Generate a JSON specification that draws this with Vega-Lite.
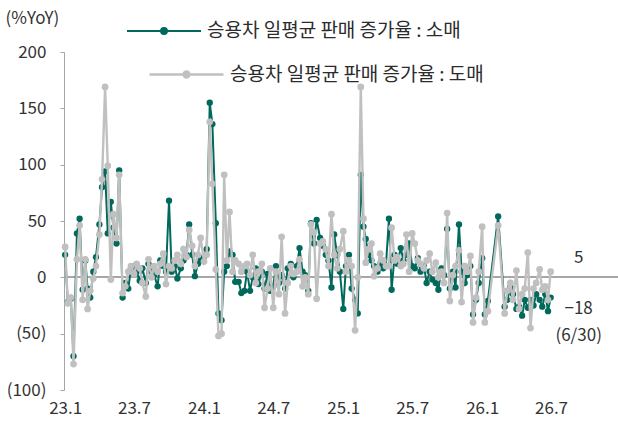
{
  "$schema": "https://vega.github.io/schema/vega-lite/v6.json",
  "width": 554,
  "height": 338,
  "autosize": "none",
  "padding": {"left": 64, "top": 52, "right": 0, "bottom": 36},
  "background": "white",
  "config": {
    "view": {"stroke": null},
    "font": "Noto Sans CJK KR",
    "axis": {"labelFont": "Noto Sans CJK KR", "titleFont": "Noto Sans CJK KR"},
    "legend": {"labelFont": "Noto Sans CJK KR"}
  },
  "datasets": {
    "weekly": [
      {"d":"2023-01-01","a":20,"b":27},{"d":"2023-01-08","a":-22,"b":-23},{"d":"2023-01-16","a":-19,"b":-18},{"d":"2023-01-23","a":-70,"b":-77},
      {"d":"2023-02-01","a":39,"b":16},{"d":"2023-02-08","a":52,"b":46},{"d":"2023-02-16","a":-11,"b":-20},{"d":"2023-02-23","a":15,"b":16},
      {"d":"2023-03-01","a":-10,"b":-28},{"d":"2023-03-08","a":-18,"b":-12},{"d":"2023-03-16","a":5,"b":-1},{"d":"2023-03-23","a":18,"b":10},
      {"d":"2023-04-01","a":47,"b":38},{"d":"2023-04-08","a":80,"b":87},{"d":"2023-04-16","a":94,"b":169},{"d":"2023-04-23","a":39,"b":99},
      {"d":"2023-05-01","a":67,"b":-2},{"d":"2023-05-08","a":44,"b":56},{"d":"2023-05-16","a":30,"b":35},{"d":"2023-05-23","a":95,"b":91},
      {"d":"2023-06-01","a":-18,"b":-14},{"d":"2023-06-08","a":-5,"b":-8},{"d":"2023-06-16","a":-10,"b":5},{"d":"2023-06-23","a":8,"b":10},
      {"d":"2023-07-01","a":10,"b":3},{"d":"2023-07-08","a":5,"b":12},{"d":"2023-07-16","a":-3,"b":8},{"d":"2023-07-23","a":8,"b":-5},
      {"d":"2023-08-01","a":-5,"b":-17},{"d":"2023-08-08","a":12,"b":16},{"d":"2023-08-16","a":5,"b":0},{"d":"2023-08-23","a":2,"b":10},
      {"d":"2023-09-01","a":-8,"b":5},{"d":"2023-09-08","a":15,"b":12},{"d":"2023-09-16","a":10,"b":21},{"d":"2023-09-23","a":5,"b":-6},
      {"d":"2023-10-01","a":68,"b":10},{"d":"2023-10-08","a":5,"b":8},{"d":"2023-10-16","a":10,"b":15},{"d":"2023-10-23","a":-1,"b":20},
      {"d":"2023-11-01","a":8,"b":12},{"d":"2023-11-08","a":15,"b":25},{"d":"2023-11-16","a":20,"b":18},{"d":"2023-11-23","a":47,"b":42},
      {"d":"2023-12-01","a":20,"b":28},{"d":"2023-12-08","a":1,"b":10},{"d":"2023-12-16","a":12,"b":20},{"d":"2023-12-23","a":15,"b":35},
      {"d":"2024-01-01","a":18,"b":14},{"d":"2024-01-08","a":25,"b":20},{"d":"2024-01-16","a":155,"b":138},{"d":"2024-01-23","a":136,"b":83},
      {"d":"2024-02-01","a":48,"b":7},{"d":"2024-02-08","a":-32,"b":-52},{"d":"2024-02-16","a":-38,"b":-50},{"d":"2024-02-23","a":5,"b":91},
      {"d":"2024-03-01","a":10,"b":15},{"d":"2024-03-08","a":23,"b":58},{"d":"2024-03-16","a":20,"b":5},{"d":"2024-03-23","a":-4,"b":15},
      {"d":"2024-04-01","a":-4,"b":12},{"d":"2024-04-08","a":-14,"b":5},{"d":"2024-04-16","a":-12,"b":10},{"d":"2024-04-23","a":5,"b":12},
      {"d":"2024-05-01","a":-12,"b":2},{"d":"2024-05-08","a":0,"b":20},{"d":"2024-05-16","a":8,"b":-5},{"d":"2024-05-23","a":-6,"b":5},
      {"d":"2024-06-01","a":5,"b":12},{"d":"2024-06-08","a":-10,"b":-27},{"d":"2024-06-16","a":3,"b":-10},{"d":"2024-06-23","a":-12,"b":8},
      {"d":"2024-07-01","a":-8,"b":-27},{"d":"2024-07-08","a":10,"b":5},{"d":"2024-07-16","a":-5,"b":-15},{"d":"2024-07-23","a":2,"b":36},
      {"d":"2024-08-01","a":-10,"b":-32},{"d":"2024-08-08","a":8,"b":-5},{"d":"2024-08-16","a":12,"b":10},{"d":"2024-08-23","a":0,"b":3},
      {"d":"2024-09-01","a":10,"b":5},{"d":"2024-09-08","a":26,"b":16},{"d":"2024-09-16","a":5,"b":-8},{"d":"2024-09-23","a":2,"b":0},
      {"d":"2024-10-01","a":-12,"b":-15},{"d":"2024-10-08","a":48,"b":47},{"d":"2024-10-16","a":30,"b":40},{"d":"2024-10-23","a":51,"b":-19},
      {"d":"2024-11-01","a":35,"b":30},{"d":"2024-11-08","a":28,"b":32},{"d":"2024-11-16","a":20,"b":25},{"d":"2024-11-23","a":15,"b":10},
      {"d":"2024-12-01","a":-9,"b":56},{"d":"2024-12-08","a":38,"b":20},{"d":"2024-12-16","a":20,"b":8},{"d":"2024-12-23","a":5,"b":25},
      {"d":"2025-01-01","a":-28,"b":41},{"d":"2025-01-08","a":10,"b":5},{"d":"2025-01-16","a":20,"b":15},{"d":"2025-01-23","a":-10,"b":10},
      {"d":"2025-02-01","a":-20,"b":-47},{"d":"2025-02-08","a":-32,"b":0},{"d":"2025-02-16","a":91,"b":169},{"d":"2025-02-23","a":45,"b":52},
      {"d":"2025-03-01","a":34,"b":13},{"d":"2025-03-08","a":20,"b":25},{"d":"2025-03-16","a":15,"b":30},{"d":"2025-03-23","a":10,"b":1},
      {"d":"2025-04-01","a":5,"b":8},{"d":"2025-04-08","a":12,"b":21},{"d":"2025-04-16","a":8,"b":15},{"d":"2025-04-23","a":10,"b":10},
      {"d":"2025-05-01","a":52,"b":10},{"d":"2025-05-08","a":-11,"b":44},{"d":"2025-05-16","a":20,"b":15},{"d":"2025-05-23","a":12,"b":18},
      {"d":"2025-06-01","a":26,"b":10},{"d":"2025-06-08","a":15,"b":12},{"d":"2025-06-16","a":20,"b":38},{"d":"2025-06-23","a":30,"b":5},
      {"d":"2025-07-01","a":10,"b":39},{"d":"2025-07-08","a":8,"b":30},{"d":"2025-07-16","a":17,"b":15},{"d":"2025-07-23","a":5,"b":12},
      {"d":"2025-08-01","a":10,"b":8},{"d":"2025-08-08","a":-5,"b":15},{"d":"2025-08-16","a":5,"b":21},{"d":"2025-08-23","a":-2,"b":5},
      {"d":"2025-09-01","a":-5,"b":13},{"d":"2025-09-08","a":-11,"b":0},{"d":"2025-09-16","a":8,"b":5},{"d":"2025-09-23","a":2,"b":-5},
      {"d":"2025-10-01","a":43,"b":57},{"d":"2025-10-08","a":-10,"b":-21},{"d":"2025-10-16","a":5,"b":2},{"d":"2025-10-23","a":-9,"b":10},
      {"d":"2025-11-01","a":47,"b":24},{"d":"2025-11-08","a":5,"b":-22},{"d":"2025-11-16","a":-5,"b":10},{"d":"2025-11-23","a":2,"b":5},
      {"d":"2025-12-01","a":10,"b":19},{"d":"2025-12-08","a":-33,"b":-40},{"d":"2025-12-16","a":-20,"b":-18},{"d":"2025-12-23","a":-5,"b":5},
      {"d":"2026-01-01","a":17,"b":45},{"d":"2026-01-08","a":-33,"b":-40},{"d":"2026-01-16","a":-21,"b":-30},
      {"d":"2026-02-12","a":54,"b":46},
      {"d":"2026-03-01","a":-26,"b":-32},{"d":"2026-03-08","a":-20,"b":-12},{"d":"2026-03-16","a":-9,"b":-5},{"d":"2026-03-23","a":-15,"b":-20},
      {"d":"2026-04-01","a":-28,"b":6},{"d":"2026-04-08","a":-26,"b":-28},{"d":"2026-04-16","a":-34,"b":-15},{"d":"2026-04-23","a":-20,"b":-10},
      {"d":"2026-05-01","a":-27,"b":22},{"d":"2026-05-08","a":-20,"b":-45},{"d":"2026-05-16","a":-25,"b":-10},{"d":"2026-05-23","a":-15,"b":-5},
      {"d":"2026-06-01","a":-20,"b":7},{"d":"2026-06-08","a":-26,"b":-11},{"d":"2026-06-16","a":-15,"b":-8},{"d":"2026-06-23","a":-30,"b":-20},
      {"d":"2026-06-30","a":-18,"b":5}
    ],
    "ann": [
      {"d":"2026-06-30","v":5,"t":"5"},
      {"d":"2026-06-30","v":-18,"t":"−18\n(6/30)"}
    ]
  },
  "data": {"name": "weekly"},
  "layer": [
    {
      "mark": {"type": "rule", "color": "#A6A6A6", "strokeWidth": 1.5},
      "encoding": {"y": {"datum": 0, "type": "quantitative"}}
    },
    {
      "mark": {"type": "line", "strokeWidth": 2, "point": {"filled": true, "size": 40}},
      "encoding": {
        "x": {
          "field": "d", "type": "temporal",
          "scale": {"domain": ["2022-12-29", "2026-12-24"]},
          "axis": {
            "title": null, "format": "%y.%-m", "domain": false, "ticks": false, "grid": false,
            "labelFontSize": 17, "labelColor": "#333", "labelPadding": 10,
            "values": [
              {"year": 2023, "month": 1, "date": 1}, {"year": 2023, "month": 7, "date": 1},
              {"year": 2024, "month": 1, "date": 1}, {"year": 2024, "month": 7, "date": 1},
              {"year": 2025, "month": 1, "date": 1}, {"year": 2025, "month": 7, "date": 1},
              {"year": 2026, "month": 1, "date": 1}, {"year": 2026, "month": 7, "date": 1}
            ]
          }
        },
        "y": {
          "field": "a", "type": "quantitative",
          "scale": {"domain": [-100, 200], "nice": false},
          "axis": {
            "values": [-100, -50, 0, 50, 100, 150, 200],
            "labelExpr": "datum.value < 0 ? '(' + (-datum.value) + ')' : '' + datum.value",
            "grid": false, "domainColor": "#A6A6A6", "tickColor": "#A6A6A6", "tickSize": 4,
            "labelFontSize": 17, "labelColor": "#333", "labelPadding": 14,
            "title": "(%YoY)", "titleAngle": 0, "titleAlign": "left", "titleBaseline": "middle",
            "titleX": -59, "titleY": -34, "titleFontSize": 17, "titleFontWeight": "normal", "titleColor": "#333"
          }
        },
        "color": {
          "datum": "승용차 일평균 판매 증가율 : 소매",
          "scale": {"range": ["#00695C"]},
          "legend": {
            "orient": "none", "legendX": 62, "legendY": -59, "title": null, "padding": 0,
            "symbolType": "M-1,0L1,0M0.08,0A0.08,0.08,0,1,1,-0.08,0A0.08,0.08,0,1,1,0.08,0Z",
            "symbolSize": 5476, "symbolStrokeWidth": 2,
            "symbolFillColor": "#00695C", "symbolStrokeColor": "#00695C",
            "labelFontSize": 19, "labelColor": "#2b2b2b", "labelOffset": 5, "labelLimit": 400
          }
        }
      }
    },
    {
      "mark": {"type": "line", "strokeWidth": 2.4, "point": {"filled": true, "size": 46}},
      "encoding": {
        "x": {"field": "d", "type": "temporal"},
        "y": {"field": "b", "type": "quantitative"},
        "color": {
          "datum": "승용차 일평균 판매 증가율 : 도매",
          "scale": {"range": ["#C0C0C0"]},
          "legend": {
            "orient": "none", "legendX": 84, "legendY": -16, "title": null, "padding": 0,
            "symbolType": "M-1,0L1,0M0.08,0A0.08,0.08,0,1,1,-0.08,0A0.08,0.08,0,1,1,0.08,0Z",
            "symbolSize": 5476, "symbolStrokeWidth": 2.4,
            "symbolFillColor": "#C0C0C0", "symbolStrokeColor": "#C0C0C0",
            "labelFontSize": 19, "labelColor": "#2b2b2b", "labelOffset": 5, "labelLimit": 400
          }
        }
      }
    },
    {
      "data": {"name": "ann"},
      "transform": [{"filter": "datum.v > 0"}],
      "mark": {"type": "text", "fontSize": 17, "color": "#333", "align": "center", "baseline": "middle", "dx": 28, "dy": -14},
      "encoding": {
        "x": {"field": "d", "type": "temporal"},
        "y": {"field": "v", "type": "quantitative"},
        "text": {"field": "t"}
      }
    },
    {
      "data": {"name": "ann"},
      "transform": [{"filter": "datum.v < 0"}],
      "mark": {"type": "text", "fontSize": 17, "color": "#333", "align": "center", "baseline": "top", "dx": 28, "dy": 3, "lineBreak": "\n", "lineHeight": 27},
      "encoding": {
        "x": {"field": "d", "type": "temporal"},
        "y": {"field": "v", "type": "quantitative"},
        "text": {"field": "t"}
      }
    }
  ],
  "resolve": {"scale": {"color": "independent"}}
}
